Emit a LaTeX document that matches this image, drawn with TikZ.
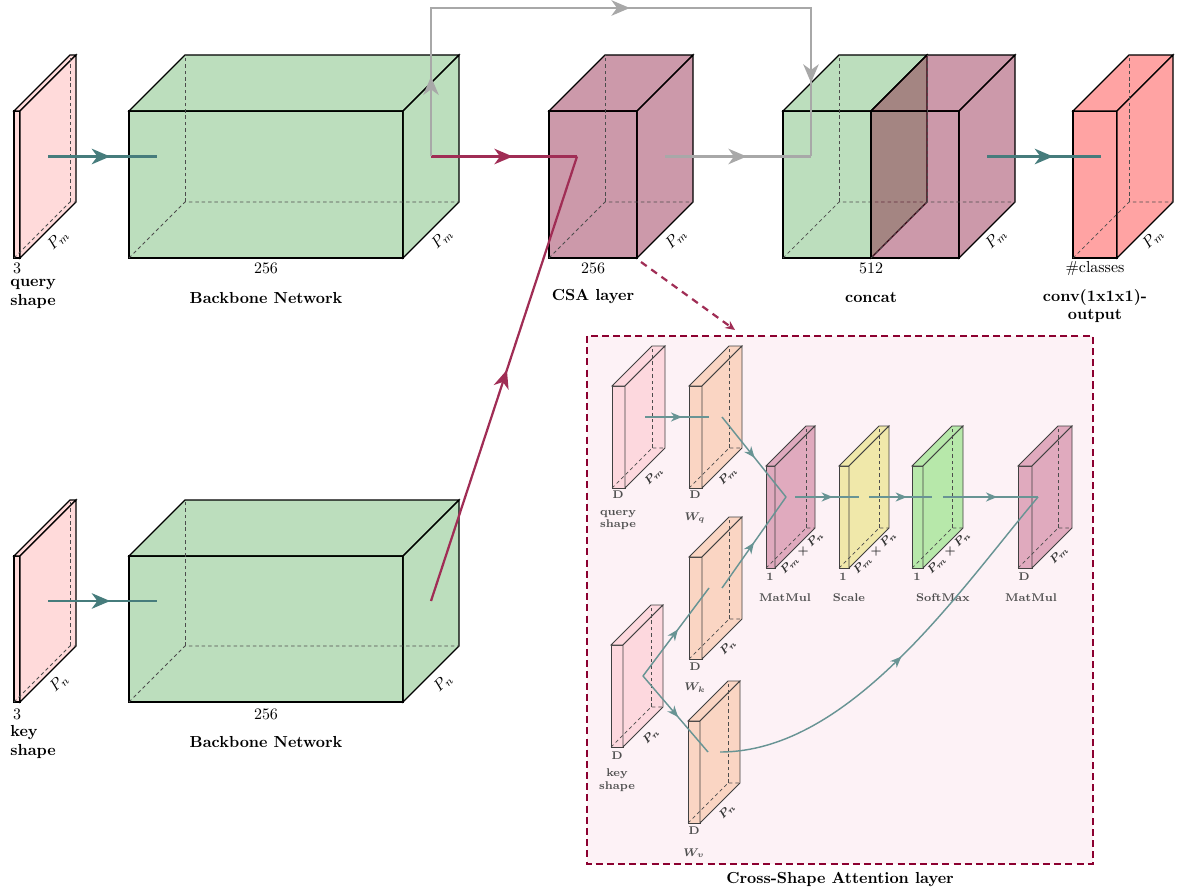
\documentclass[tikz,border=0pt]{standalone}
\usepackage{amsmath,bm}
\usetikzlibrary{arrows.meta,decorations.markings}

\definecolor{inpink}{RGB}{255,218,218}
\definecolor{bbgreen}{RGB}{88,172,90}
\definecolor{csared}{RGB}{128,0,42}
\definecolor{outred}{RGB}{255,163,163}
\definecolor{linkteal}{RGB}{70,124,124}
\definecolor{thinteal}{RGB}{104,148,148}
\definecolor{skipgray}{RGB}{168,168,168}
\definecolor{crimson}{RGB}{160,45,85}
\definecolor{framered}{RGB}{140,0,48}
\definecolor{framebg}{RGB}{253,242,246}
\definecolor{qkpink}{RGB}{253,216,222}
\definecolor{wpeach}{RGB}{250,213,195}
\definecolor{mmpink}{RGB}{224,170,190}
\definecolor{scyellow}{RGB}{240,232,170}
\definecolor{smgreen}{RGB}{183,232,170}
\definecolor{smalltext}{RGB}{80,80,80}

% cuboid: name, x, y (front top left), width, height, depth, face style
\newcommand{\cuboid}[7]{%
  \begin{scope}[shift={(#2,#3)}]
    \filldraw[#7] (0,0) -- (#4,0) -- (#4,#5) -- (0,#5) -- cycle;
    \filldraw[#7] (0,0) -- (#6,-#6) -- (#4+#6,-#6) -- (#4,0) -- cycle;
    \filldraw[#7] (#4,0) -- (#4+#6,-#6) -- (#4+#6,#5-#6) -- (#4,#5) -- cycle;
    \draw[hidden] (0,#5) -- (#6,#5-#6) -- (#4+#6,#5-#6);
    \draw[hidden] (#6,#5-#6) -- (#6,-#6);
    \coordinate (#1-west) at (#6/2,#5/2-#6/2);
    \coordinate (#1-east) at (#4+#6/2,#5/2-#6/2);
    \coordinate (#1-fbr) at (#4,#5);
  \end{scope}}

\begin{document}
\begin{tikzpicture}[x=0.022cm,y=-0.022cm,
    face/.style={draw=black,line width=0.7pt},
    thinface/.style={draw=black!75,line width=0.5pt},
    hidden/.style={draw=black!70,line width=0.45pt,dash pattern=on 2.2pt off 1.8pt},
    midarrow/.style={postaction={decorate},decoration={markings,
      mark=at position #1 with {\arrow{Stealth[length=11.5pt,width=9.7pt,inset=3.5pt]}}}},
    smallarrow/.style={postaction={decorate},decoration={markings,
      mark=at position #1 with {\arrow{Stealth[length=7pt,width=5.7pt,inset=2.2pt]}}}},
    link/.style={draw=linkteal,line width=1.75pt},
    thinlink/.style={draw=thinteal,line width=0.9pt},
    lab/.style={font=\bfseries},
    tiny lab/.style={font=\scriptsize\bfseries,text=smalltext},
    ptag/.style={rotate=45,font=\scriptsize,text=black!80,inner sep=1pt},
  ]
  \useasboundingbox (0,0) rectangle (1179,893);

  % query branch
  \cuboid{qimg}{14}{111}{6}{147}{56}{face,fill=inpink}
  \cuboid{bbq}{129}{111}{274}{147}{56}{face,fill=bbgreen,fill opacity=0.4}
  \node (qimg-d) at (17,268) {3};
  \node[rotate=45] (qimg-p) at (58,240) {$P_m$};
  \node[lab,align=left,anchor=north west,inner sep=0pt] (qimg-lab) at (10,279) {query\\shape};
  \node (bbq-d) at (266,268) {256};
  \node[rotate=45] (bbq-p) at (442,239) {$P_m$};
  \node[lab] (bbq-lab) at (266,298) {Backbone Network};

  % key branch
  \cuboid{kimg}{14}{556}{6}{146}{56}{face,fill=inpink}
  \cuboid{bbk}{129}{556}{274}{146}{56}{face,fill=bbgreen,fill opacity=0.4}
  \node (kimg-d) at (17,714) {3};
  \node[rotate=45] (kimg-p) at (59,683) {$P_n$};
  \node[lab,align=left,anchor=north west,inner sep=0pt] (kimg-lab) at (10,725) {key\\shape};
  \node (bbk-d) at (266,714) {256};
  \node[rotate=45] (bbk-p) at (443,683) {$P_n$};
  \node[lab] (bbk-lab) at (266,742) {Backbone Network};

  % CSA, concat, output
  \cuboid{csa}{549}{111}{88}{147}{56}{face,fill=csared,fill opacity=0.4}
  \node (csa-d) at (593,268) {256};
  \node[rotate=45] (csa-p) at (676,239) {$P_m$};
  \node[lab] (csa-lab) at (593,297) {CSA layer};

  \cuboid{catg}{783}{111}{88}{147}{56}{face,fill=bbgreen,fill opacity=0.4}
  \cuboid{catr}{871}{111}{88}{147}{56}{face,fill=csared,fill opacity=0.4}
  \node (cat-d) at (871,268) {512};
  \node[rotate=45] (cat-p) at (996,239) {$P_m$};
  \node[lab] (cat-lab) at (871,297) {concat};

  \cuboid{out}{1073}{111}{44}{147}{56}{face,fill=outred}
  \node (out-d) at (1095,269) {\#classes};
  \node[rotate=45] (out-p) at (1153,239) {$P_m$};
  \node[lab,align=center] (out-lab) at (1095,306) {conv(1x1x1)-\\[-1pt]output};

  % connections
  \draw[link,midarrow=0.57] (qimg-east) -- (bbq-west);
  \draw[link,midarrow=0.57] (kimg-east) -- (bbk-west);
  \draw[link,midarrow=0.58] (catr-east) -- (out-west);
  \draw[draw=crimson,line width=1.4pt,midarrow=0.56] (bbq-east) -- (csa-west);
  \draw[draw=crimson,line width=1.4pt,midarrow=0.52] (bbk-east) -- (csa-west);
  \draw[draw=skipgray,line width=1.4pt,midarrow=0.56] (csa-east) -- (catg-west);
  \coordinate (skip-a) at (431,8);
  \coordinate (skip-b) at (811,8);
  \draw[draw=skipgray,line width=1.4pt,postaction={decorate},decoration={markings,
      mark=at position 0.118 with {\arrow{Stealth[length=11.5pt,width=9.7pt,inset=3.5pt]}},
      mark=at position 0.513 with {\arrow{Stealth[length=11.5pt,width=9.7pt,inset=3.5pt]}},
      mark=at position 0.891 with {\arrow{Stealth[length=11.5pt,width=9.7pt,inset=3.5pt]}}}]
    (bbq-east) -- (skip-a) -- (skip-b) -- (catg-west);

  % cross-shape attention layer
  \coordinate (frame-nw) at (587,336);
  \coordinate (frame-se) at (1093,864);
  \coordinate (frame-entry) at (735,330);
  \draw[draw=framered,fill=framebg,line width=1.75pt,dash pattern=on 4.4pt off 2.6pt] (frame-nw) rectangle (frame-se);
  \node[lab] (frame-lab) at (840,880) {Cross-Shape Attention layer};
  \draw[draw=crimson,line width=1.4pt,dash pattern=on 4.4pt off 3.5pt,-{Stealth[length=6pt,width=5.5pt]}] ([shift={(4,4)}]csa-fbr) -- (frame-entry);

  \cuboid{qin}{612}{386}{13}{102}{40}{thinface,fill=qkpink}
  \cuboid{wq}{689}{386}{13}{102}{40}{thinface,fill=wpeach}
  \cuboid{kin}{611}{645}{12}{102}{40}{thinface,fill=qkpink}
  \cuboid{wk}{689}{557}{13}{102}{40}{thinface,fill=wpeach}
  \cuboid{wv}{688}{721}{12}{102}{40}{thinface,fill=wpeach}
  \cuboid{mma}{766}{466}{9}{102}{40}{thinface,fill=mmpink}
  \cuboid{scl}{839}{466}{10}{102}{40}{thinface,fill=scyellow}
  \cuboid{smx}{912}{466}{11}{102}{40}{thinface,fill=smgreen}
  \cuboid{mmb}{1018}{466}{14}{102}{40}{thinface,fill=mmpink}

  \node[tiny lab] (qin-d) at (618,495) {D};
  \node[ptag] (qin-p) at (654,476) {$\bm{P_m}$};
  \node[tiny lab,align=center] (qin-lab) at (618,520) {query\\shape};
  \node[tiny lab] (wq-d) at (695,495) {D};
  \node[ptag] (wq-p) at (728,476) {$\bm{P_m}$};
  \node[font=\scriptsize,text=smalltext] (wq-lab) at (695,518) {$\bm{W_q}$};

  \node[tiny lab] (kin-d) at (617,756) {D};
  \node[ptag] (kin-p) at (651,736) {$\bm{P_n}$};
  \node[tiny lab,align=center] (kin-lab) at (617,780) {key\\shape};
  \node[tiny lab] (wk-d) at (695,667) {D};
  \node[ptag] (wk-p) at (728,647) {$\bm{P_n}$};
  \node[font=\scriptsize,text=smalltext] (wk-lab) at (695,688) {$\bm{W_k}$};
  \node[tiny lab] (wv-d) at (694,831) {D};
  \node[ptag] (wv-p) at (727,811) {$\bm{P_n}$};
  \node[font=\scriptsize,text=smalltext] (wv-lab) at (694,853) {$\bm{W_v}$};

  \node[tiny lab] (mma-d) at (770,577) {1};
  \node[ptag] (mma-p) at (802,553) {$\bm{P_m\times P_n}$};
  \node[tiny lab] (mma-lab) at (785,598) {MatMul};
  \node[tiny lab] (scl-d) at (843,577) {1};
  \node[ptag] (scl-p) at (875,553) {$\bm{P_m\times P_n}$};
  \node[tiny lab] (scl-lab) at (849,598) {Scale};
  \node[tiny lab] (smx-d) at (917,577) {1};
  \node[ptag] (smx-p) at (949,553) {$\bm{P_m\times P_n}$};
  \node[tiny lab] (smx-lab) at (943,598) {SoftMax};
  \node[tiny lab] (mmb-d) at (1024,577) {D};
  \node[ptag] (mmb-p) at (1059,555) {$\bm{P_m}$};
  \node[tiny lab] (mmb-lab) at (1031,598) {MatMul};

  \draw[thinlink,smallarrow=0.58] (qin-east) -- (wq-west);
  \draw[thinlink,smallarrow=0.53] (kin-east) -- (wk-west);
  \draw[thinlink,smallarrow=0.54] (kin-east) -- (wv-west);
  \draw[thinlink,smallarrow=0.51] (wq-east) -- (mma-west);
  \draw[thinlink,smallarrow=0.50] (wk-east) -- (mma-west);
  \draw[thinlink,smallarrow=0.59] (mma-east) -- (scl-west);
  \draw[thinlink,smallarrow=0.60] (scl-east) -- (smx-west);
  \draw[thinlink,smallarrow=0.57] (smx-east) -- (mmb-west);
  \draw[thinlink,smallarrow=0.50] (wv-east) .. controls (850,752) and (958,592) .. (mmb-west);
\end{tikzpicture}
\end{document}
